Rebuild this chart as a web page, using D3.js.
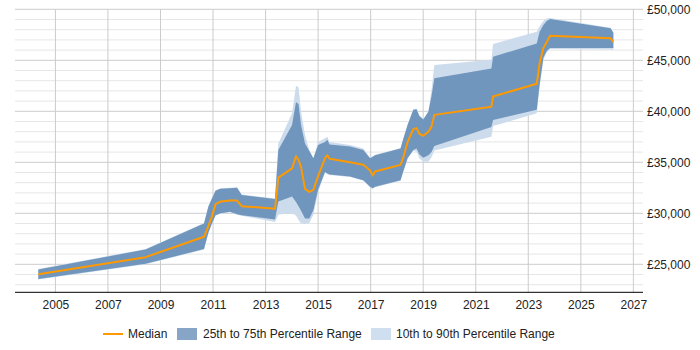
<!DOCTYPE html>
<html>
<head>
<meta charset="utf-8">
<script src="https://cdn.jsdelivr.net/npm/d3@7"></script>
<style>
  html, body { margin: 0; padding: 0; background: #fff; }
  svg { display: block; font-family: "Liberation Sans", Arial, sans-serif; }
</style>
</head>
<body>
<svg id="chart" width="700" height="350"></svg>
<script>
const dates = ["2004-05-08","2008-06-07","2010-08-29","2010-10-28","2010-12-14","2011-02-05","2011-04-15","2011-08-25","2011-12-01","2012-02-04",
  "2013-05-12","2013-06-27","2014-01-04","2014-02-28","2014-04-04","2014-05-09","2014-07-03","2014-09-01","2014-10-27","2015-01-01",
  "2015-04-07","2015-05-09","2015-06-09","2016-03-20","2016-09-20","2016-12-24","2017-01-30","2017-03-03","2018-02-20","2018-03-27",
  "2018-05-29","2018-08-17","2018-10-01","2018-11-08","2019-01-03","2019-03-14","2019-04-27","2019-06-05","2021-08-06","2021-08-30",
  "2023-04-29","2023-06-07","2023-07-30","2023-09-15","2023-10-31","2026-02-18","2026-03-29"];
const median = [24020,25700,27700,28750,29650,30900,31150,31250,31250,30700,
  30450,33500,34400,35600,35200,34550,32400,32100,32300,33650,
  35400,35700,35350,35000,34750,34200,33700,34100,34750,35400,
  37000,38250,38350,37800,37600,38000,38500,39650,40450,41450,
  42700,44700,46200,46800,47400,47150,46800];
const p25 = [23550,25050,26500,28100,28950,29800,30000,30150,29900,29800,
  29400,31150,31650,31100,30700,30250,29500,29500,30300,32300,
  34050,33900,33800,33600,33250,32600,32450,32600,33250,34050,
  35400,36200,36350,35800,35450,35700,36000,36600,38450,39150,
  40150,42600,45250,45900,46200,46200,46200];
const p75 = [24500,26450,29000,30650,31400,32200,32400,32450,32500,31800,
  31400,36200,38650,40900,40700,38650,36850,36100,35400,36700,
  37000,37200,36750,36550,36200,35400,35550,35700,36350,37200,
  38650,40150,40200,39550,39200,39950,41500,43250,44200,45350,
  46650,47800,48450,48850,49050,48150,47700];
const p10 = [23500,25000,26450,28050,28900,29750,29950,30100,29850,29750,
  29150,29850,30050,29750,29350,29000,28950,29050,29850,32100,
  34000,33850,33750,33550,33200,32550,32400,32550,33200,34000,
  35350,36150,36050,35400,35050,35050,35500,36150,37500,38550,
  39800,42300,45050,45800,46100,46050,46000];
const p90 = [24550,26500,29050,30700,31450,32250,32450,32500,32550,31850,
  31450,36850,39800,42500,42350,39950,37700,36200,35400,37000,
  37350,37500,37000,36700,36350,35450,35600,35750,36400,37250,
  38700,40200,40250,39600,39250,40000,42100,44550,45050,46600,
  47800,48350,48850,49100,49150,48200,47750];
const xTickYears = [2005,2007,2009,2011,2013,2015,2017,2019,2021,2023,2025,2027];
const yTickValues = [25000,30000,35000,40000,45000,50000];
const seriesNames = ["Median","25th to 75th Percentile Range","10th to 90th Percentile Range"];

(function () {
const parse = d3.timeParse("%Y-%m-%d");
const data = dates.map((d, i) => ({
  date: parse(d), med: median[i], q1: p25[i], q3: p75[i], lo: p10[i], hi: p90[i]
}));

const svg = d3.select("#chart");
const pl = 15, pr = 643, pt = 9.3, pb = 292.3;

const x = d3.scaleTime()
  .domain([parse("2003-06-19"), parse("2027-05-15")])
  .range([pl, pr]);
const y = d3.scaleLinear().domain([22255, 50000]).range([pb, pt]);

// grid
const g = svg.append("g");
const minor = d3.range(23000, 50001, 1000).filter(v => v % 5000 !== 0);
g.selectAll("line.minor").data(minor).enter().append("line")
  .attr("x1", pl).attr("x2", pr)
  .attr("y1", d => y(d)).attr("y2", d => y(d))
  .attr("stroke", "#e6e6e6").attr("stroke-width", 1);
g.selectAll("line.major").data(yTickValues).enter().append("line")
  .attr("x1", pl).attr("x2", pr)
  .attr("y1", d => y(d)).attr("y2", d => y(d))
  .attr("stroke", "#cccccc").attr("stroke-width", 1);
const xTicks = xTickYears.map(yr => new Date(yr, 0, 1));
g.selectAll("line.vert").data(xTicks).enter().append("line")
  .attr("x1", d => x(d)).attr("x2", d => x(d))
  .attr("y1", pt).attr("y2", pb)
  .attr("stroke", "#cccccc").attr("stroke-width", 1);

// areas
const outer = d3.area().x(d => x(d.date)).y0(d => y(d.lo)).y1(d => y(d.hi));
const inner = d3.area().x(d => x(d.date)).y0(d => y(d.q1)).y1(d => y(d.q3));
const line = d3.line().x(d => x(d.date)).y(d => y(d.med));

svg.append("path").datum(data).attr("d", outer).attr("fill", "#ccdcec");
svg.append("path").datum(data).attr("d", inner).attr("fill", "#7096bd");
svg.append("path").datum(data).attr("d", line)
  .attr("fill", "none").attr("stroke", "#ff9900").attr("stroke-width", 2)
  .attr("stroke-linejoin", "round");

// x axis
const xAxis = d3.axisBottom(x).tickValues(xTicks).tickFormat(d3.timeFormat("%Y"))
  .tickSize(0).tickPadding(8);
const xg = svg.append("g").attr("transform", `translate(0,${pb})`).call(xAxis);
xg.select(".domain").attr("stroke", "#000").attr("d", `M${pl},0H${pr}`);
xg.selectAll("text").attr("font-size", 12).attr("fill", "#222")
  .attr("font-family", "'Liberation Sans', Arial, sans-serif");

// y axis (right)
const yAxis = d3.axisRight(y).tickValues(yTickValues)
  .tickFormat(d => "£" + d3.format(",")(d)).tickSize(0).tickPadding(4);
const yg = svg.append("g").attr("transform", `translate(${pr},0)`).call(yAxis);
yg.select(".domain").remove();
yg.selectAll("text").attr("font-size", 12).attr("fill", "#222")
  .attr("font-family", "'Liberation Sans', Arial, sans-serif");

// legend
const lg = svg.append("g").attr("font-size", 12).attr("fill", "#222");
lg.append("line").attr("x1", 103).attr("x2", 123).attr("y1", 334).attr("y2", 334)
  .attr("stroke", "#ff9900").attr("stroke-width", 2);
lg.append("text").attr("x", 128).attr("y", 338).text(seriesNames[0]);
lg.append("rect").attr("x", 177).attr("y", 328).attr("width", 20).attr("height", 12)
  .attr("fill", "#87a5c6");
lg.append("text").attr("x", 203).attr("y", 338).text(seriesNames[1]);
lg.append("rect").attr("x", 371).attr("y", 328).attr("width", 20).attr("height", 12)
  .attr("fill", "#cfdfef");
lg.append("text").attr("x", 396).attr("y", 338).text(seriesNames[2]);
})();
</script>
</body>
</html>
